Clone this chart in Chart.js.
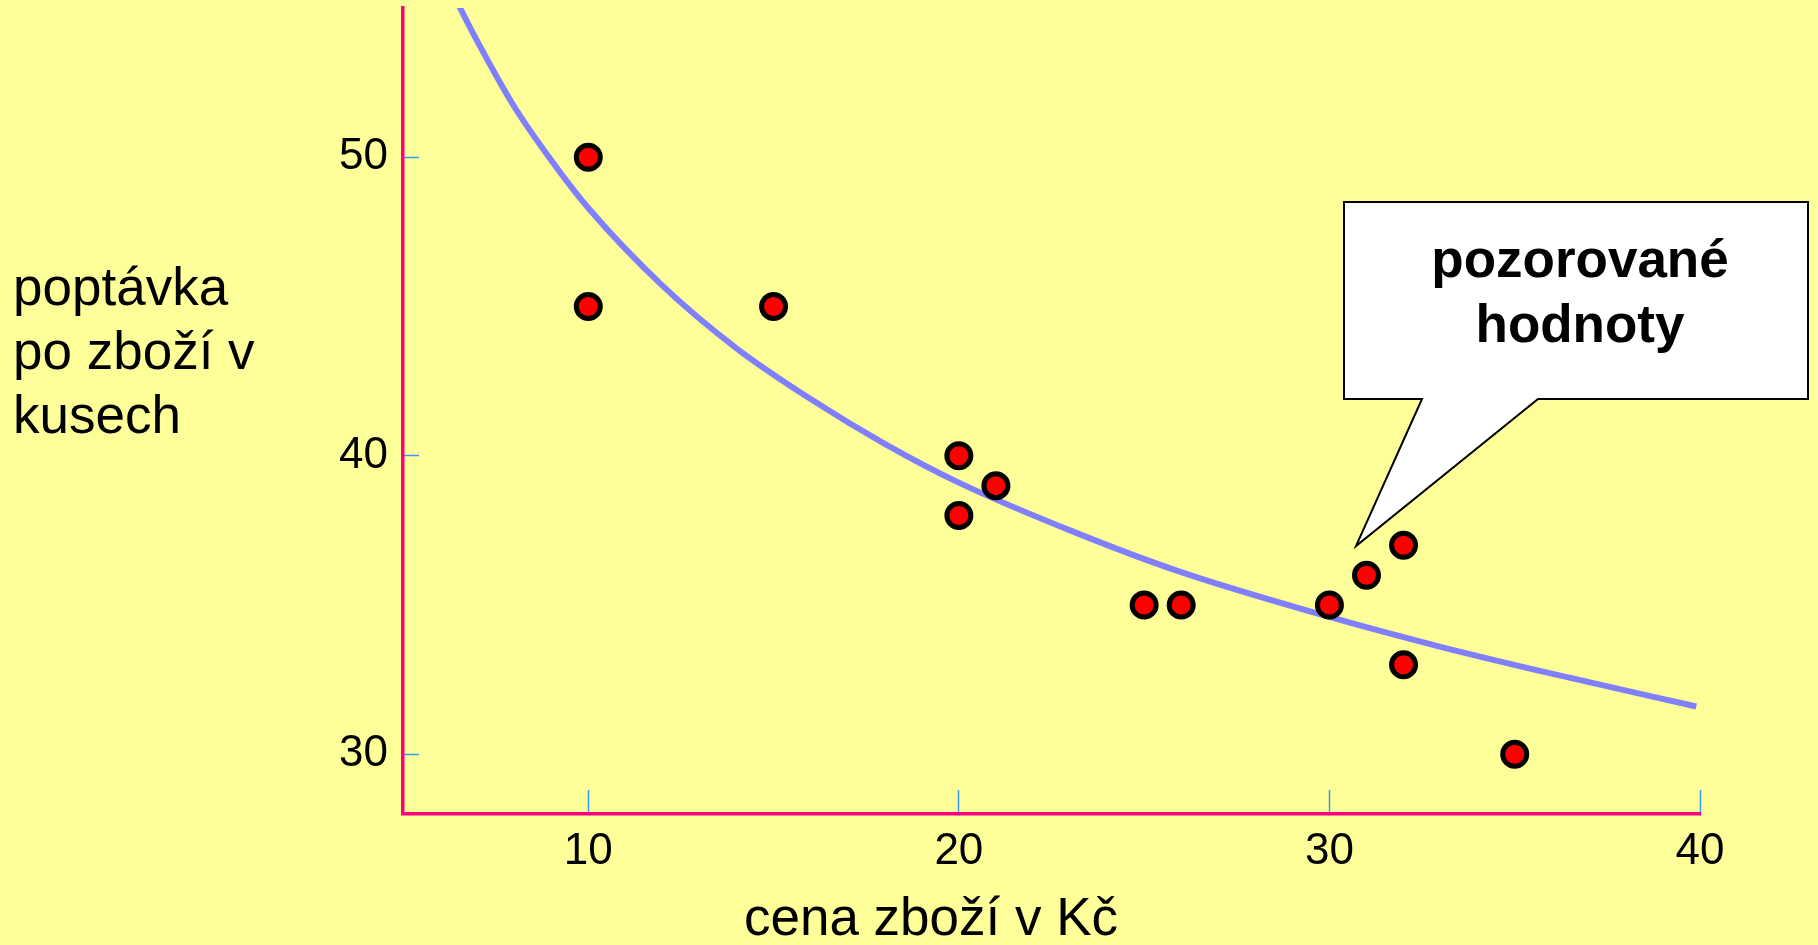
<!DOCTYPE html>
<html>
<head>
<meta charset="utf-8">
<title>poptávka</title>
<script src="https://cdn.jsdelivr.net/npm/chart.js@4/dist/chart.umd.min.js"></script>
<style>
  html, body { margin: 0; padding: 0; background: #ffff99; }
  #wrap { position: relative; width: 1818px; height: 945px; }
</style>
</head>
<body>
<div id="wrap"><canvas id="demandChart"></canvas></div>
<script>
// observed values (price, demand)
const priceObs = [10, 10, 15, 20, 20, 21, 25, 26, 30, 31, 32, 32, 35];
const demandObs = [50, 45, 45, 40, 38, 39, 35, 35, 35, 36, 37, 33, 30];

// fitted curve
const priceFit = [6.5, 7, 8, 9, 10, 12, 14, 16, 18, 20, 23, 26, 30, 33, 36, 39.9];
const demandFit = [55.1, 53.9, 51.7, 49.9, 48.3, 45.7, 43.6, 41.9, 40.4, 39.1, 37.5, 36.1, 34.6, 33.6, 32.7, 31.6];

const xTicks = [10, 20, 30, 40];
const yTicks = [30, 40, 50];

const xTitle = 'cena zboží v Kč';
const yTitleLines = ['poptávka', 'po zboží v', 'kusech'];
const calloutLines = ['pozorované', 'hodnoty'];

const FONT = '"Liberation Sans", Arial, sans-serif';

// axis titles and the speech bubble
const annotations = {
    id: 'annotations',
    afterDraw(chart) {
        const ctx = chart.ctx;
        ctx.save();

        ctx.fillStyle = '#000';
        ctx.font = '53px ' + FONT;
        ctx.textAlign = 'left';
        ctx.textBaseline = 'alphabetic';
        yTitleLines.forEach((line, i) => {
            ctx.fillText(line, 13, 305 + i * 64);
        });

        ctx.textAlign = 'center';
        ctx.fillText(xTitle, 931, 935);

        // bubble
        ctx.beginPath();
        ctx.moveTo(1344, 202);
        ctx.lineTo(1808, 202);
        ctx.lineTo(1808, 399);
        ctx.lineTo(1538, 399);
        ctx.lineTo(1356, 546);
        ctx.lineTo(1422, 399);
        ctx.lineTo(1344, 399);
        ctx.closePath();
        ctx.fillStyle = '#fff';
        ctx.fill();
        ctx.lineWidth = 2;
        ctx.strokeStyle = '#000';
        ctx.stroke();

        ctx.fillStyle = '#000';
        ctx.font = 'bold 53px ' + FONT;
        calloutLines.forEach((line, i) => {
            ctx.fillText(line, 1580, 277 + i * 65);
        });

        ctx.restore();
    }
};

const ctx = document.getElementById('demandChart').getContext('2d');
new Chart(ctx, {
    type: 'scatter',
    data: {
        datasets: [
            {
                label: 'pozorované hodnoty',
                data: priceObs.map((p, i) => ({ x: p, y: demandObs[i] })),
                backgroundColor: '#ff0000',
                borderColor: '#000000',
                borderWidth: 5,
                pointRadius: 12,
                pointHoverRadius: 12
            },
            {
                label: 'křivka',
                type: 'line',
                data: priceFit.map((p, i) => ({ x: p, y: demandFit[i] })),
                borderColor: '#8080ff',
                borderWidth: 6,
                pointRadius: 0,
                fill: false,
                cubicInterpolationMode: 'monotone'
            }
        ]
    },
    options: {
        responsive: true,
        maintainAspectRatio: false,
        animation: false,
        layout: { autoPadding: false, padding: { top: 8, right: 118, bottom: 0, left: 0 } },
        plugins: {
            legend: { display: false },
            tooltip: { enabled: false }
        },
        scales: {
            x: {
                type: 'linear',
                min: 5,
                max: 40,
                afterBuildTicks: scale => { scale.ticks = xTicks.map(v => ({ value: v })); },
                afterFit: scale => {
                    scale.height = 131;
                    scale.paddingLeft = 0;
                    scale.paddingRight = 0;
                },
                grid: {
                    drawOnChartArea: false,
                    tickLength: -24,
                    tickColor: '#3399ff',
                    tickWidth: 1.5
                },
                border: { color: '#ff0080', width: 3.5 },
                ticks: {
                    color: '#000',
                    font: { family: FONT, size: 44 },
                    padding: 35,
                    maxRotation: 0
                }
            },
            y: {
                type: 'linear',
                min: 28,
                max: 55,
                afterBuildTicks: scale => { scale.ticks = yTicks.map(v => ({ value: v })); },
                afterFit: scale => {
                    scale.width = 403;
                    scale.paddingTop = 0;
                    scale.paddingBottom = 0;
                },
                grid: {
                    drawOnChartArea: false,
                    tickLength: -16,
                    tickColor: '#3399ff',
                    tickWidth: 1.5
                },
                border: { color: '#ff0080', width: 3.5 },
                ticks: {
                    color: '#000',
                    font: { family: FONT, size: 44 },
                    padding: 31
                }
            }
        }
    },
    plugins: [annotations]
});
</script>
</body>
</html>
